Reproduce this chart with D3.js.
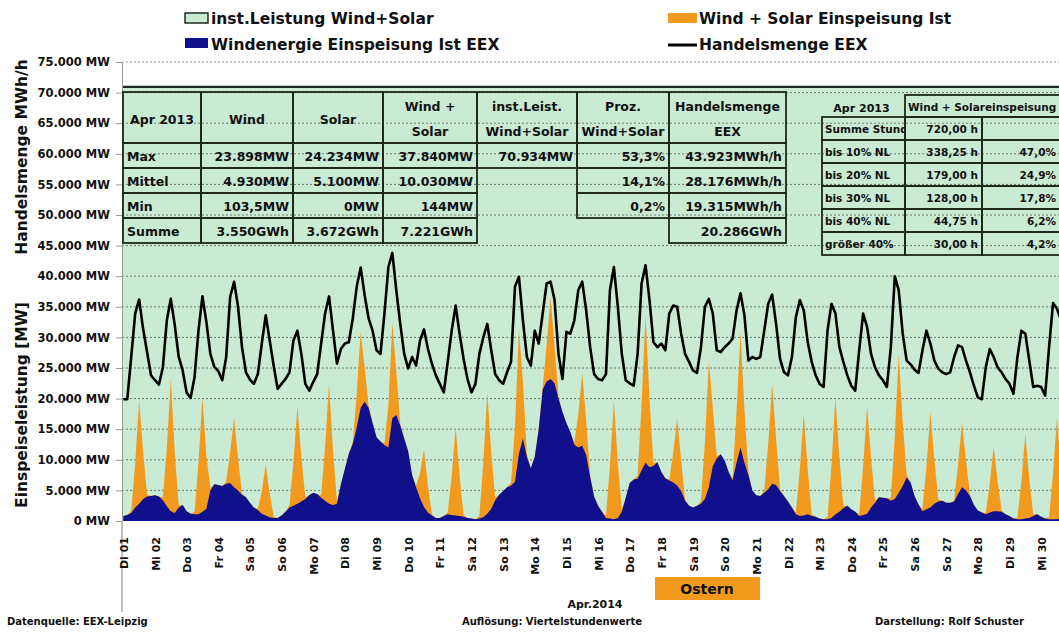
<!DOCTYPE html>
<html>
<head>
<meta charset="utf-8">
<script src="https://cdn.jsdelivr.net/npm/d3@7"></script>
<style>
body { margin: 0; background: #fff; }
svg { display: block; font-family: "DejaVu Sans", sans-serif; font-weight: bold; }
</style>
</head>
<body>
<svg width="1059" height="633"></svg>
<script>
// Werte in GW (= 1.000 MW), Viertelstundenwerte hier als 3-Stunden-Stützstellen ab 01:00
const dayLabels = ["Di 01","Mi 02","Do 03","Fr 04","Sa 05","So 06","Mo 07","Di 08","Mi 09","Do 10",
  "Fr 11","Sa 12","So 13","Mo 14","Di 15","Mi 16","Do 17","Fr 18","Sa 19","So 20",
  "Mo 21","Di 22","Mi 23","Do 24","Fr 25","Sa 26","So 27","Mo 28","Di 29","Mi 30"];

const yTicks = [0,5,10,15,20,25,30,35,40,45,50,55,60,65,70,75];

const instCapacityGW = 70.934;

const windGW = [
  0.8,1.0,1.3,2.2,2.8,3.6,4.0,4.1,
  4.2,4.0,3.4,2.4,1.6,1.3,2.2,2.6,
  1.6,1.2,1.1,1.1,1.5,2.0,5.0,6.0,
  5.9,5.7,6.1,6.2,5.5,5.0,4.3,3.9,
  3.0,2.2,1.8,1.2,0.9,0.6,0.5,0.5,
  0.9,1.5,2.2,2.5,2.8,3.2,3.6,4.2,
  4.6,4.4,3.8,3.3,2.8,2.6,2.8,6.0,
  8.5,11.0,12.6,15.3,18.5,19.5,18.5,16.0,
  13.7,13.0,12.4,12.0,16.8,17.3,15.6,13.5,
  11.4,7.5,5.5,3.7,2.3,1.4,0.9,0.5,
  0.5,0.8,1.1,1.0,0.9,0.8,0.7,0.5,
  0.4,0.3,0.4,0.6,1.2,2.0,3.4,4.3,
  4.9,5.5,5.8,6.4,11.0,13.5,10.5,8.6,
  10.5,15.0,21.5,22.8,23.2,22.5,20.0,17.8,
  16.0,14.5,12.5,12.0,12.3,10.8,7.2,4.0,
  2.5,1.5,0.5,0.4,0.3,0.5,1.5,3.8,
  6.2,6.8,6.9,8.3,9.5,8.8,9.0,9.6,
  8.0,7.0,6.6,6.3,5.8,4.9,3.3,2.5,
  2.2,2.5,2.8,3.6,5.5,9.0,10.2,10.9,
  9.9,8.0,6.6,9.5,12.0,9.5,7.5,5.0,
  4.2,4.1,4.6,5.2,6.1,5.9,4.9,4.1,
  3.2,2.2,1.1,0.8,0.9,1.1,0.8,0.7,
  0.4,0.3,0.3,0.5,1.1,1.5,2.1,2.5,
  1.9,1.5,0.8,1.0,1.2,2.2,3.0,3.9,
  3.8,3.7,3.3,3.6,4.6,5.7,7.1,6.3,
  4.1,2.7,1.6,1.9,2.2,2.8,3.2,3.3,
  3.0,3.0,3.2,4.4,5.5,5.0,4.1,2.6,
  1.7,1.4,1.1,1.4,1.6,1.6,1.5,1.1,
  0.8,0.4,0.3,0.3,0.4,0.5,0.8,1.1,
  0.7,0.4,0.3,0.3,0.3,0.4,0.5,0.6
];

const solarGW = [
  0,0,0.4,7.2,16.9,7.8,0.3,0,
  0,0,0.5,9.5,21.6,9.8,0.4,0,
  0,0,0.4,8.4,18.7,8.6,0.4,0,
  0,0,0.3,5.0,11.3,5.2,0.2,0,
  0,0,0.2,3.6,8.3,3.9,0.2,0,
  0,0,0.4,7.0,15.9,7.3,0.3,0,
  0,0,0.4,8.8,19.6,9.0,0.4,0,
  0,0,0.3,5.5,12.4,5.6,0.3,0,
  0,0,0.3,6.8,15.5,7.1,0.3,0,
  0,0,0.2,4.1,9.4,4.3,0.2,0,
  0,0,0.3,6.3,14.4,6.6,0.3,0,
  0,0,0.4,8.9,19.8,9.1,0.4,0,
  0,0,0.5,9.0,20.3,9.3,0.4,0,
  0,0,0.3,6.0,13.4,6.1,0.3,0,
  0,0,0.3,5.3,11.9,5.5,0.2,0,
  0,0,0.4,8.6,19.3,8.9,0.4,0,
  0,0,0.5,10.8,24.1,11.1,0.5,0,
  0,0,0.2,4.8,10.9,5.0,0.2,0,
  0,0,0.4,9.2,20.7,9.5,0.4,0,
  0,0,0.4,8.4,18.9,8.7,0.4,0,
  0,0,0.4,7.4,16.3,7.6,0.3,0,
  0,0,0.3,7.6,16.6,7.2,0.3,0,
  0,0,0.4,8.6,19.1,8.8,0.4,0,
  0,0,0.3,7.9,17.5,8.1,0.3,0,
  0,0,0.5,10.2,22.7,10.4,0.5,0,
  0,0,0.3,7.0,15.6,7.2,0.3,0,
  0,0,0.2,4.8,10.6,4.9,0.2,0,
  0,0,0.2,4.7,10.5,4.8,0.2,0,
  0,0,0.3,6.2,13.8,6.3,0.3,0,
  0,0,0.3,7.4,16.6,7.6,0.3,0
];

const tradeGW = [
  19.9,19.9,26.8,33.9,36.2,31.4,27.6,23.8,
  23.0,22.3,25.1,32.8,36.3,32.0,26.8,24.6,
  21.0,20.1,23.5,31.1,36.7,32.5,27.3,25.2,
  24.5,23.0,26.8,36.6,39.1,35.0,28.4,24.3,
  23.1,22.4,24.0,29.0,33.6,29.5,25.4,21.6,
  22.4,23.2,24.3,29.5,31.1,27.3,22.4,21.3,
  22.7,24.0,29.0,33.9,36.7,31.1,25.7,28.1,
  29.0,29.2,33.1,38.3,41.4,36.9,33.1,31.1,
  27.9,27.3,33.9,41.5,43.8,37.7,32.2,27.3,
  24.9,26.8,25.4,29.5,31.3,28.1,25.7,23.8,
  22.4,21.0,26.0,31.1,35.2,30.6,26.5,23.2,
  21.0,22.4,27.3,30.0,32.2,27.9,24.0,23.0,
  22.4,24.3,26.0,38.3,39.9,32.8,26.8,25.4,
  31.1,29.0,33.9,38.8,39.1,36.1,27.3,23.2,
  30.9,30.6,32.8,37.7,39.1,34.4,28.4,24.0,
  23.2,23.0,24.0,37.7,41.5,35.0,27.3,23.0,
  22.5,22.1,27.3,38.8,41.8,36.1,29.2,28.4,
  29.0,27.9,33.9,35.2,35.0,30.6,27.3,26.0,
  24.6,24.2,28.4,35.0,36.3,33.9,27.9,27.6,
  28.4,29.0,29.8,34.4,37.2,33.6,26.2,26.8,
  26.5,26.8,31.1,35.5,37.0,32.2,26.5,24.3,
  23.8,26.8,33.3,36.1,34.4,29.2,26.0,23.8,
  22.4,21.9,31.1,35.5,33.9,28.4,26.0,23.8,
  22.1,21.3,27.9,33.9,31.7,27.3,25.1,23.8,
  23.0,21.9,28.4,40.0,37.7,30.6,26.2,25.6,
  24.7,24.2,27.9,31.1,29.0,26.2,24.9,24.3,
  24.0,24.3,26.8,28.7,28.4,26.2,24.3,22.1,
  20.2,19.9,25.1,28.1,26.8,25.1,24.3,23.2,
  22.4,20.8,26.8,31.1,30.6,26.2,21.9,22.1,
  21.9,20.5,28.4,35.6,34.7,32.8,28.0,25.0
];

// Tabelle links
const tableHead = [["Apr 2013"], ["Wind"], ["Solar"], ["Wind +", "Solar"], ["inst.Leist.", "Wind+Solar"], ["Proz.", "Wind+Solar"], ["Handelsmenge", "EEX"]];
const tableRows = [
  ["Max", "23.898MW", "24.234MW", "37.840MW", "70.934MW", "53,3%", "43.923MWh/h"],
  ["Mittel", "4.930MW", "5.100MW", "10.030MW", "", "14,1%", "28.176MWh/h"],
  ["Min", "103,5MW", "0MW", "144MW", "", "0,2%", "19.315MWh/h"],
  ["Summe", "3.550GWh", "3.672GWh", "7.221GWh", "", "", "20.286GWh"]
];

// Tabelle rechts
const table2Head = ["Apr 2013", "Wind + Solareinspeisung"];
const table2Rows = [
  ["Summe Stunden", "720,00 h", ""],
  ["bis 10% NL", "338,25 h", "47,0%"],
  ["bis 20% NL", "179,00 h", "24,9%"],
  ["bis 30% NL", "128,00 h", "17,8%"],
  ["bis 40% NL", "44,75 h", "6,2%"],
  ["größer 40%", "30,00 h", "4,2%"]
];

const green = "#c9ead3";
const orange = "#f29a1e";
const navy = "#10108c";
const border = "#1b281b";

const svg = d3.select("svg");

const x = d3.scaleLinear().domain([0, 720]).range([122, 1071.5]);
const y = d3.scaleLinear().domain([0, 75]).range([521, 62]);

const data = windGW.map((w, i) => ({ h: 1 + 3 * i, wind: w, solar: solarGW[i], trade: tradeGW[i] }));
const stacked = d3.stack().keys(["wind", "solar"])(data);

// inst. Leistung Wind+Solar (Fläche)
svg.append("rect")
  .attr("x", x(0))
  .attr("y", y(instCapacityGW))
  .attr("width", x(720) - x(0))
  .attr("height", y(0) - y(instCapacityGW))
  .attr("fill", green);

svg.append("line")
  .attr("x1", x(0)).attr("x2", x(720))
  .attr("y1", y(instCapacityGW)).attr("y2", y(instCapacityGW))
  .attr("stroke", "#1e2a22")
  .attr("stroke-width", 2.2);

// Gitterlinien
svg.append("g")
  .selectAll("line")
  .data(yTicks.filter(d => d > 0))
  .enter()
  .append("line")
  .attr("x1", x(0)).attr("x2", 1059)
  .attr("y1", d => y(d)).attr("y2", d => y(d))
  .attr("stroke", d => d === 75 ? "#9a9a9a" : "#6f7a72")
  .attr("stroke-width", 1)
  .attr("stroke-dasharray", "2,2");

// Wind + Solar (orange)
svg.append("path")
  .datum(stacked[1])
  .attr("fill", orange)
  .attr("d", d3.area()
    .x(d => x(d.data.h))
    .y0(y(0))
    .y1(d => y(d[1])));

// Windenergie (blau)
svg.append("path")
  .datum(stacked[0])
  .attr("fill", navy)
  .attr("d", d3.area()
    .x(d => x(d.data.h))
    .y0(y(0))
    .y1(d => y(d[1])));

// Handelsmenge EEX
svg.append("path")
  .datum(data)
  .attr("fill", "none")
  .attr("stroke", "#000")
  .attr("stroke-width", 2.6)
  .attr("stroke-linejoin", "round")
  .attr("d", d3.line()
    .x(d => x(d.h))
    .y(d => y(d.trade)));

// Y-Achse
const de = d3.formatLocale({ decimal: ",", thousands: ".", grouping: [3], currency: ["", " €"] });
const fmt = de.format(",.0f");

const yAxis = svg.append("g")
  .attr("transform", `translate(${x(0)},0)`)
  .call(d3.axisLeft(y).tickValues(yTicks).tickSize(6).tickPadding(6)
    .tickFormat(d => fmt(d * 1000) + " MW"));
yAxis.select(".domain").attr("stroke", "#9a9a9a");
yAxis.selectAll(".tick line").attr("stroke", "#9a9a9a");
yAxis.selectAll(".tick text")
  .attr("font-family", "DejaVu Sans")
  .attr("font-weight", "bold")
  .attr("font-size", 11.5)
  .attr("fill", "#111");

// X-Achse (Tage)
svg.append("line")
  .attr("x1", x(0)).attr("x2", x(0))
  .attr("y1", y(0)).attr("y2", 612)
  .attr("stroke", "#a8a8a8")
  .attr("stroke-width", 1.5);

svg.append("g")
  .selectAll("text")
  .data(dayLabels)
  .enter()
  .append("text")
  .attr("transform", (d, i) => `translate(${x(i * 24) + 2},537) rotate(-90)`)
  .attr("dy", "0.35em")
  .attr("text-anchor", "end")
  .attr("font-size", 11)
  .attr("fill", "#111")
  .text(d => d);

// Achsentitel
svg.append("text")
  .attr("transform", "translate(22,157) rotate(-90)")
  .attr("dy", "0.35em")
  .attr("text-anchor", "middle")
  .attr("font-size", 15.5)
  .attr("fill", "#111")
  .text("Handelsmenge MWh/h");

svg.append("text")
  .attr("transform", "translate(22,405) rotate(-90)")
  .attr("dy", "0.35em")
  .attr("text-anchor", "middle")
  .attr("font-size", 15.5)
  .attr("fill", "#111")
  .text("Einspeiseleistung  [MW]");

// Legende
const legend = svg.append("g").attr("font-size", 15.5).attr("fill", "#111");
legend.append("rect").attr("x", 185).attr("y", 13).attr("width", 23).attr("height", 10)
  .attr("fill", green).attr("stroke", "#1e2a22").attr("stroke-width", 1.5);
legend.append("text").attr("x", 211).attr("y", 24).text("inst.Leistung Wind+Solar");
legend.append("rect").attr("x", 185).attr("y", 38).attr("width", 23).attr("height", 10)
  .attr("fill", navy);
legend.append("text").attr("x", 211).attr("y", 50).text("Windenergie Einspeisung Ist EEX");
legend.append("rect").attr("x", 668).attr("y", 13).attr("width", 29).attr("height", 10)
  .attr("fill", orange);
legend.append("text").attr("x", 699).attr("y", 24).text("Wind + Solar Einspeisung Ist");
legend.append("line").attr("x1", 668).attr("x2", 697).attr("y1", 45).attr("y2", 45)
  .attr("stroke", "#000").attr("stroke-width", 3);
legend.append("text").attr("x", 699).attr("y", 50).text("Handelsmenge EEX");

// Tabelle links
const colX = [123, 201, 293, 383, 477, 577, 669, 786];
const rowY = [92, 143, 168, 193, 218, 243];
const t1 = svg.append("g").attr("font-size", 12.5).attr("fill", "#111");

tableHead.forEach((lines, c) => {
  t1.append("rect")
    .attr("x", colX[c]).attr("y", rowY[0])
    .attr("width", colX[c + 1] - colX[c]).attr("height", rowY[1] - rowY[0])
    .attr("fill", "none").attr("stroke", border).attr("stroke-width", 1.8);
  const cx = (colX[c] + colX[c + 1]) / 2;
  if (lines.length === 1) {
    t1.append("text").attr("x", cx).attr("y", 124).attr("text-anchor", "middle").text(lines[0]);
  } else {
    t1.append("text").attr("x", cx).attr("y", 111).attr("text-anchor", "middle").text(lines[0]);
    t1.append("text").attr("x", cx).attr("y", 136).attr("text-anchor", "middle").text(lines[1]);
  }
});

tableRows.forEach((row, r) => {
  row.forEach((val, c) => {
    if (val === "") return;
    t1.append("rect")
      .attr("x", colX[c]).attr("y", rowY[r + 1])
      .attr("width", colX[c + 1] - colX[c]).attr("height", rowY[r + 2] - rowY[r + 1])
      .attr("fill", "none").attr("stroke", border).attr("stroke-width", 1.8);
    t1.append("text")
      .attr("x", c === 0 ? colX[c] + 4 : colX[c + 1] - 4)
      .attr("y", rowY[r + 2] - 7)
      .attr("text-anchor", c === 0 ? "start" : "end")
      .text(val);
  });
});

// Tabelle rechts
const col2X = [822, 905, 982, 1075];
const row2Y = [95, 117, 140, 163, 186, 209, 232, 255];
const t2 = svg.append("g").attr("font-size", 10.5).attr("fill", "#111");

svg.append("clipPath").attr("id", "labelClip")
  .append("rect").attr("x", col2X[0]).attr("y", row2Y[1])
  .attr("width", col2X[1] - col2X[0] - 1).attr("height", row2Y[7] - row2Y[1]);

t2.append("text").attr("x", (col2X[0] + col2X[1]) / 2 - 2).attr("y", 112)
  .attr("text-anchor", "middle").attr("font-size", 11).text(table2Head[0]);
t2.append("rect").attr("x", col2X[1]).attr("y", row2Y[0])
  .attr("width", col2X[3] - col2X[1]).attr("height", row2Y[1] - row2Y[0])
  .attr("fill", "none").attr("stroke", border).attr("stroke-width", 1.8);
t2.append("text").attr("x", col2X[1] + 3).attr("y", 111).text(table2Head[1]);

table2Rows.forEach((row, r) => {
  row.forEach((val, c) => {
    t2.append("rect")
      .attr("x", col2X[c]).attr("y", row2Y[r + 1])
      .attr("width", col2X[c + 1] - col2X[c]).attr("height", row2Y[r + 2] - row2Y[r + 1])
      .attr("fill", "none").attr("stroke", border).attr("stroke-width", 1.8);
    if (val === "") return;
    t2.append("text")
      .attr("x", c === 0 ? col2X[c] + 3 : (c === 2 ? 1056 : col2X[c + 1] - 4))
      .attr("y", row2Y[r + 2] - 7)
      .attr("text-anchor", c === 0 ? "start" : "end")
      .attr("clip-path", c === 0 ? "url(#labelClip)" : null)
      .text(val);
  });
});

// Ostern
svg.append("rect")
  .attr("x", 655).attr("y", 577).attr("width", 105).attr("height", 23)
  .attr("fill", orange);
svg.append("text")
  .attr("x", 707).attr("y", 594)
  .attr("text-anchor", "middle")
  .attr("font-size", 14)
  .attr("fill", "#111")
  .text("Ostern");

// Fußzeile
const foot = svg.append("g").attr("font-size", 10).attr("fill", "#111");
foot.append("text").attr("x", 7).attr("y", 625).text("Datenquelle: EEX-Leipzig");
foot.append("text").attr("x", 595).attr("y", 608).attr("text-anchor", "middle").attr("font-size", 11).text("Apr.2014");
foot.append("text").attr("x", 552).attr("y", 625).attr("text-anchor", "middle").text("Auflösung: Viertelstundenwerte");
foot.append("text").attr("x", 875).attr("y", 625).text("Darstellung: Rolf Schuster");
</script>
</body>
</html>
